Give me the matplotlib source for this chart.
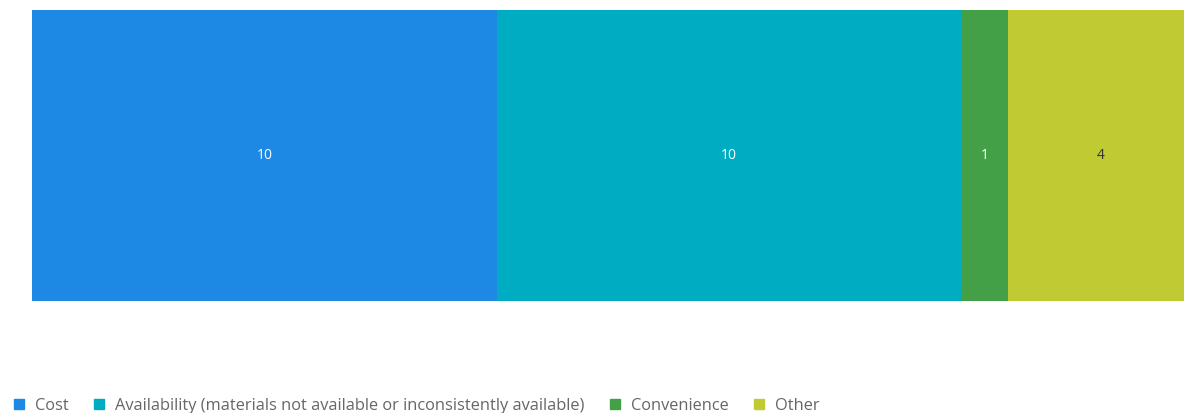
import matplotlib.pyplot as plt
from matplotlib.lines import Line2D

categories = ['Cost', 'Availability (materials not available or inconsistently available)',
              'Convenience', 'Other']
values = [10, 10, 1, 4]
colors = ['#1E88E5', '#00ACC1', '#43A047', '#C0CA33']
label_colors = ['#ffffff', '#ffffff', '#ffffff', '#333333']

plt.rcParams['font.family'] = ['Open Sans', 'DejaVu Sans']

W, H = 1184, 413
fig = plt.figure(figsize=(W / 100, H / 100), dpi=100)
ax = fig.add_axes([32 / W, (H - 301) / H, 1162 / W, 291 / H])

left = 0
for cat, v, c, lc in zip(categories, values, colors, label_colors):
    ax.barh(0, v, left=left, height=1, color=c, edgecolor='none')
    ax.text(left + v / 2, 0, str(v), ha='center', va='center', fontsize=10, color=lc)
    left += v

ax.set_xlim(0, sum(values))
ax.set_ylim(-0.5, 0.5)
ax.axis('off')

handles = [Line2D([], [], marker='s', linestyle='none', markersize=7.5,
                  markerfacecolor=c, markeredgecolor=c) for c in colors]
fig.legend(handles, categories, loc='center left', bbox_to_anchor=(8 / W, 1 - 406 / H),
           ncol=4, frameon=False, fontsize=11.8, labelcolor='#666666',
           handlelength=0.8, handletextpad=0.57, columnspacing=1.45, borderaxespad=0,
           borderpad=0.3)

fig.savefig('out.png', dpi=100)
